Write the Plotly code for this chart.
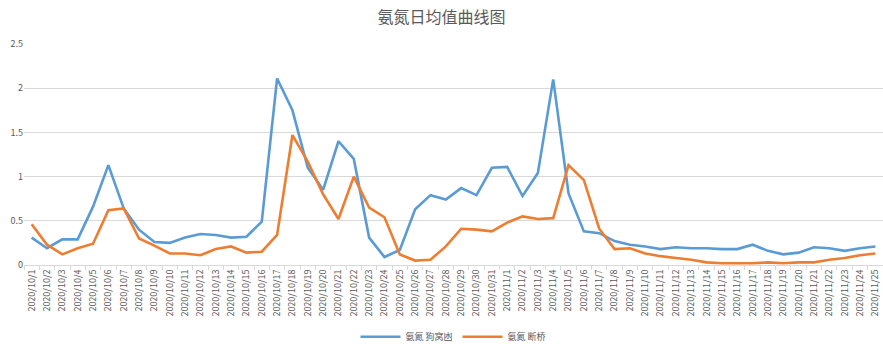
import plotly.graph_objects as go

dates = [f"2020/10/{d}" for d in range(1, 32)] + [f"2020/11/{d}" for d in range(1, 26)]

gouwodang = [0.31, 0.19, 0.29, 0.29, 0.66, 1.13, 0.64, 0.40, 0.26, 0.25,
             0.31, 0.35, 0.34, 0.31, 0.32, 0.49, 2.11, 1.75, 1.10, 0.85,
             1.40, 1.20, 0.31, 0.09, 0.17, 0.63, 0.79, 0.74, 0.87, 0.79,
             1.10, 1.11, 0.78, 1.04, 2.10, 0.81, 0.38, 0.36, 0.27, 0.23,
             0.21, 0.18, 0.20, 0.19, 0.19, 0.18, 0.18, 0.23, 0.16, 0.12,
             0.14, 0.20, 0.19, 0.16, 0.19, 0.21]

duanqiao = [0.46, 0.23, 0.12, 0.19, 0.24, 0.62, 0.64, 0.30, 0.22, 0.13,
            0.13, 0.11, 0.18, 0.21, 0.14, 0.15, 0.34, 1.47, 1.17, 0.80,
            0.52, 1.00, 0.65, 0.54, 0.12, 0.05, 0.06, 0.21, 0.41, 0.40,
            0.38, 0.48, 0.55, 0.52, 0.53, 1.13, 0.96, 0.41, 0.18, 0.19,
            0.13, 0.10, 0.08, 0.06, 0.03, 0.02, 0.02, 0.02, 0.03, 0.02,
            0.03, 0.03, 0.06, 0.08, 0.11, 0.13]

names = ["氨氮 狗窝凼", "氨氮 断桥"]
colors = ["#5B9BD5", "#ED7D31"]
ytickvals = [0, 0.5, 1, 1.5, 2, 2.5]
yticktext = ["0", "0.5", "1", "1.5", "2", "2.5"]

font_family = "Noto Sans CJK SC, DejaVu Sans, sans-serif"

fig = go.Figure()
for name, vals, col in zip(names, [gouwodang, duanqiao], colors):
    fig.add_trace(go.Scatter(x=dates, y=vals, mode="lines", name=name,
                             line=dict(color=col, width=2.6)))

fig.update_layout(
    width=883, height=349,
    margin=dict(l=24, r=0, t=44, b=84),
    paper_bgcolor="white", plot_bgcolor="white",
    font=dict(family=font_family, color="#595959", size=9),
    title=dict(text="氨氮日均值曲线图", x=0.5, xanchor="center", y=0.95, yanchor="middle",
               font=dict(size=16, color="#595959", family=font_family)),
    showlegend=True,
    legend=dict(orientation="h", x=0.5, xanchor="center", y=0.035, yref="container",
                yanchor="middle", font=dict(size=9, color="#595959"),
                itemwidth=40, traceorder="normal"),
    xaxis=dict(type="category", range=[-0.5, len(dates) - 0.5], tickangle=-90,
               showgrid=False, showline=True, linecolor="#D9D9D9", linewidth=1,
               ticks="outside", tickson="boundaries", ticklen=4, tickcolor="#D9D9D9",
               tickfont=dict(size=9, color="#595959")),
    yaxis=dict(range=[0, 2.5], tickvals=ytickvals, ticktext=yticktext,
               showgrid=True, gridcolor="#D9D9D9", gridwidth=1, zeroline=False,
               showline=False, tickfont=dict(size=9, color="#595959"), ticks=""),
)

fig.write_html("out.html")
